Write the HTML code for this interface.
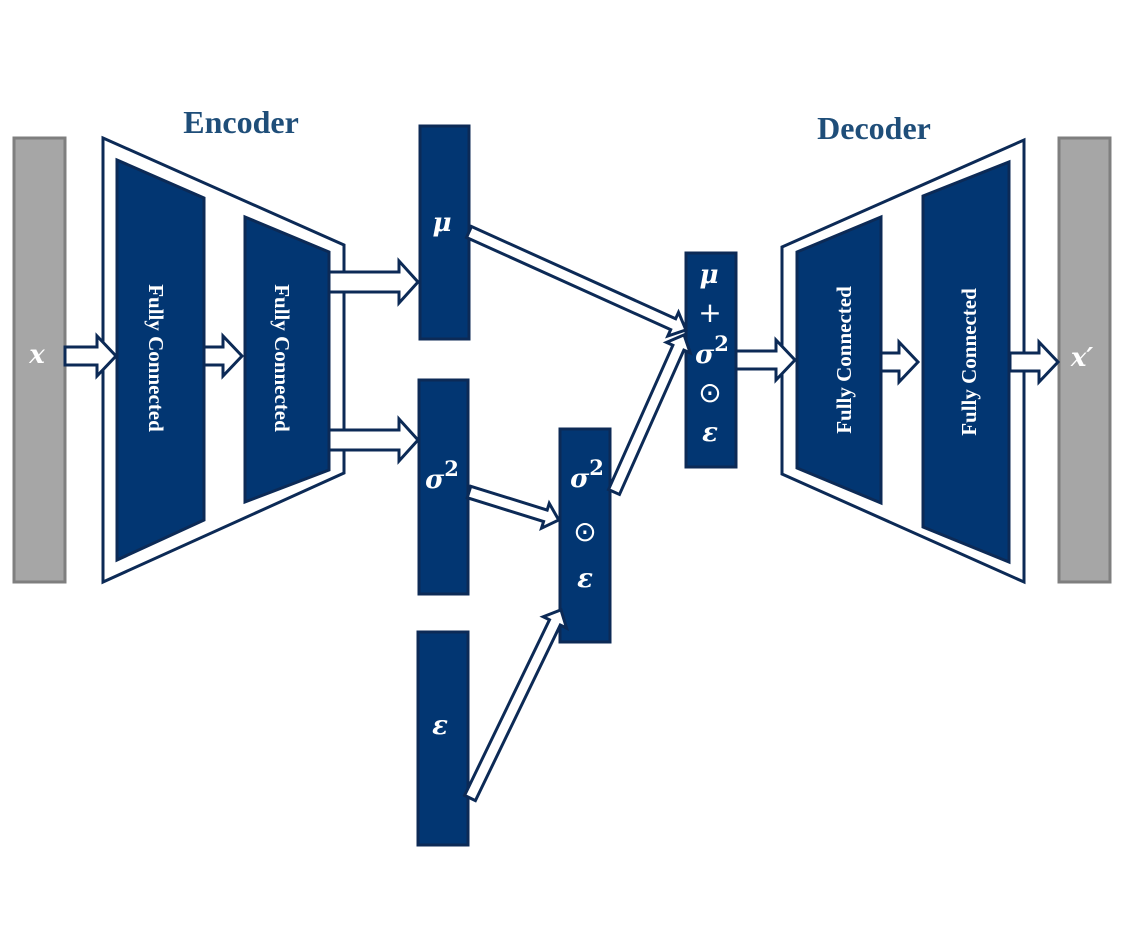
<!DOCTYPE html>
<html><head><meta charset="utf-8"><style>
html,body{margin:0;padding:0;background:#fff;width:1136px;height:926px;overflow:hidden}
svg{display:block}
.t{font-family:"Liberation Serif",serif;font-weight:bold;fill:#1f4e79;font-size:32px}
.m{font-family:"DejaVu Serif",serif;font-weight:bold;font-style:italic;fill:#fff;font-size:26px}
.fc{font-family:"Liberation Serif",serif;font-weight:bold;fill:#fff;font-size:21px}
.op{font-family:"DejaVu Sans",sans-serif;fill:#fff;font-size:28px}
</style></head><body>
<svg width="1136" height="926" viewBox="0 0 1136 926" xmlns="http://www.w3.org/2000/svg">
<g stroke="#0c2a56" stroke-width="3" stroke-linejoin="miter">
<rect x="14" y="138" width="51" height="444" fill="#a6a6a6" stroke="#7f7f7f"/>
<rect x="1059" y="138" width="51" height="444" fill="#a6a6a6" stroke="#7f7f7f"/>
<polygon points="103,138 344,245 344,473 103,582" fill="#fff"/>
<polygon points="117,160 204,198 204,520 117,560" fill="#023672"/>
<polygon points="245,217 329,252 329,470 245,502" fill="#023672"/>
<polygon points="782,247 1024,140 1024,582 782,474" fill="#fff"/>
<polygon points="797,252 881,217 881,503 797,468" fill="#023672"/>
<polygon points="923,196 1009,162 1009,562 923,527" fill="#023672"/>
<rect x="420" y="126" width="49" height="213" fill="#023672"/>
<rect x="419" y="380" width="49" height="214" fill="#023672"/>
<rect x="418" y="632" width="50" height="213" fill="#023672"/>
<rect x="560" y="429" width="50" height="213" fill="#023672"/>
<rect x="686" y="253" width="50" height="214" fill="#023672"/>
<g fill="#fff">
<polygon transform="translate(65,356)" points="0,-9 32,-9 32,-20 51,0 32,20 32,9 0,9"/>
<polygon transform="translate(204,356)" points="0,-9 19,-9 19,-20 38,0 19,20 19,9 0,9"/>
<polygon transform="translate(329,282)" points="0,-10 70,-10 70,-21 89,0 70,21 70,10 0,10"/>
<polygon transform="translate(329,440)" points="0,-10 70,-10 70,-21 89,0 70,21 70,10 0,10"/>
<polygon transform="translate(736,360)" points="0,-9 40,-9 40,-20 59,0 40,20 40,9 0,9"/>
<polygon transform="translate(881,362)" points="0,-9 18,-9 18,-20 37,0 18,20 18,9 0,9"/>
<polygon transform="translate(1010,362)" points="0,-9 29,-9 29,-20 48,0 29,20 29,9 0,9"/>
<polygon transform="translate(469,232) rotate(24.3)" points="0,-6 224,-6 224,-13 238,0 224,13 224,6 0,6"/>
<polygon transform="translate(469,492) rotate(17.3)" points="0,-6 80,-6 80,-13 94,0 80,13 80,6 0,6"/>
<polygon transform="translate(470,798) rotate(-64.2)" points="0,-6 195,-6 195,-13 209,0 195,13 195,6 0,6"/>
<polygon transform="translate(614,492) rotate(-65.96)" points="0,-6 158,-6 158,-13 172,0 158,13 158,6 0,6"/>
</g>
</g>
<text class="t" x="241" y="133" text-anchor="middle">Encoder</text>
<text class="t" x="874" y="139" text-anchor="middle">Decoder</text>
<text class="fc" transform="translate(149,358) rotate(90)" text-anchor="middle">Fully Connected</text>
<text class="fc" transform="translate(275,358) rotate(90)" text-anchor="middle">Fully Connected</text>
<text class="fc" transform="translate(851,360) rotate(-90)" text-anchor="middle">Fully Connected</text>
<text class="fc" transform="translate(976,362) rotate(-90)" text-anchor="middle">Fully Connected</text>
<text class="m" x="37" y="363" text-anchor="middle">x</text>
<text class="m" x="1082" y="366" text-anchor="middle">x′</text>
<text class="m" x="442" y="231" text-anchor="middle">μ</text>
<text class="m" x="442" y="488" text-anchor="middle">σ<tspan font-style="normal" font-size="21" dy="-12">2</tspan></text>
<text class="m" x="440" y="734" text-anchor="middle">ε</text>
<text class="m" x="587" y="487" text-anchor="middle">σ<tspan font-style="normal" font-size="21" dy="-12">2</tspan></text>
<text class="op" x="585" y="541" text-anchor="middle">⊙</text>
<text class="m" x="585" y="587" text-anchor="middle">ε</text>
<text class="m" x="709" y="283" text-anchor="middle">μ</text>
<text class="op" x="710" y="322" text-anchor="middle">+</text>
<text class="m" x="712" y="363" text-anchor="middle">σ<tspan font-style="normal" font-size="21" dy="-12">2</tspan></text>
<text class="op" x="710" y="402" text-anchor="middle">⊙</text>
<text class="m" x="710" y="441" text-anchor="middle">ε</text>
</svg>
</body></html>
